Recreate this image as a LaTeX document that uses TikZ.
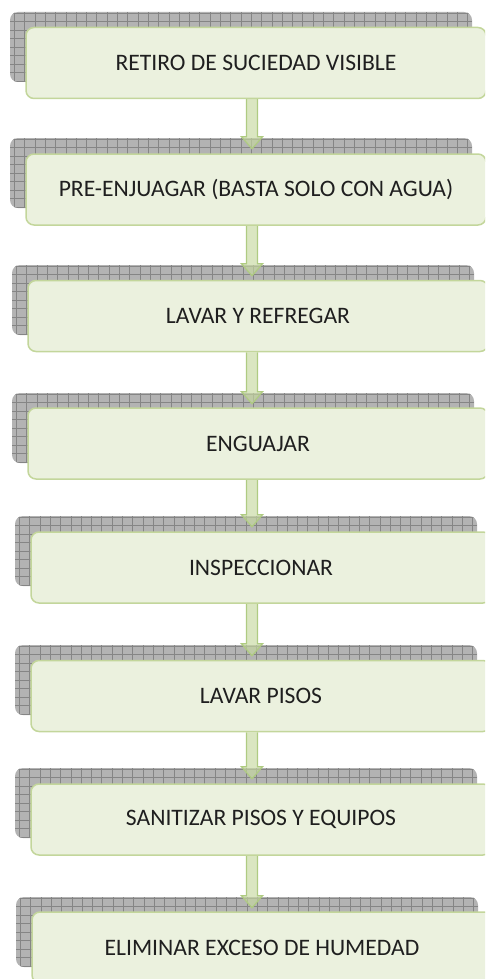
\documentclass[tikz,border=0pt]{standalone}
\usepackage{fontspec}
\setmainfont{Carlito}
\usetikzlibrary{calc}

\definecolor{boxfill}{HTML}{EBF1DE}
\definecolor{boxline}{HTML}{C3D69B}
\definecolor{arrfill}{HTML}{C6D9A0}
\definecolor{arrline}{HTML}{AFCB82}
\definecolor{shfill}{HTML}{B3B3B3}
\definecolor{shgrid}{HTML}{858585}
\definecolor{steptext}{HTML}{1F1F1F}

\pgfdeclarelayer{back}
\pgfdeclarelayer{mid}
\pgfsetlayers{back,mid,main}

% block arrow from a box to the shadow of the next one
\newcommand{\flowarrow}[2]{%
  \draw[flowarrow] let \p1=(252,0 |- #1.south), \p2=(252,0 |- #2.north) in
    (\x1-5.5pt,\y1) -- (\x1-5.5pt,\y2+1pt) -- (\x1-10.5pt,\y2+1pt)
    -- (\x1,\y2-11pt) -- (\x1+10.5pt,\y2+1pt) -- (\x1+5.5pt,\y2+1pt)
    -- (\x1+5.5pt,\y1);}

\begin{document}
\begin{tikzpicture}[
    x=1pt, y=-1pt,
    stepbox/.style={draw=boxline, line width=1.5pt, fill=boxfill, rounded corners=8pt,
      minimum width=460pt, minimum height=71pt, inner sep=0pt, text=steptext,
      font=\fontsize{23.6}{28}\selectfont},
    shadowbox/.style={fill=shfill, rounded corners=8pt, minimum width=462pt,
      minimum height=70pt, inner sep=0pt,
      path picture={\draw[shgrid, line width=0.8pt]
        (path picture bounding box.south west) grid[xstep=10.3pt, ystep=8.5pt]
        (path picture bounding box.north east);}},
    flowarrow/.style={draw=arrline, line width=1.2pt, fill=arrfill, fill opacity=0.65,
      line join=miter}
  ]
    \useasboundingbox (0,0) rectangle (485,979);
    \clip (0,0) rectangle (485,979);

    % steps
    \node[stepbox] (retiro)    at (256,63)    {RETIRO DE SUCIEDAD VISIBLE};
    \node[stepbox] (preenj)    at (256,189.5) {PRE-ENJUAGAR (BASTA SOLO CON AGUA)};
    \node[stepbox] (lavar)     at (258,316)   {LAVAR Y REFREGAR};
    \node[stepbox] (enguajar)  at (258,443.5) {ENGUAJAR};
    \node[stepbox] (inspec)    at (261,567.5) {INSPECCIONAR};
    \node[stepbox] (pisos)     at (261,696)   {LAVAR PISOS};
    \node[stepbox] (sanit)     at (261,819.5) {SANITIZAR PISOS Y EQUIPOS};
    \node[stepbox] (humedad)   at (262,947.5) {ELIMINAR EXCESO DE HUMEDAD};

    % shadows
    \begin{pgfonlayer}{back}
      \node[shadowbox] (sh-retiro)   at (241,47)   {};
      \node[shadowbox] (sh-preenj)   at (241,173)  {};
      \node[shadowbox] (sh-lavar)    at (243,300)  {};
      \node[shadowbox] (sh-enguajar) at (243,428)  {};
      \node[shadowbox] (sh-inspec)   at (246,551)  {};
      \node[shadowbox] (sh-pisos)    at (246,680)  {};
      \node[shadowbox] (sh-sanit)    at (246,803)  {};
      \node[shadowbox] (sh-humedad)  at (247,932)  {};
    \end{pgfonlayer}

    % arrows
    \begin{pgfonlayer}{mid}
      \flowarrow{retiro}{sh-preenj}
      \flowarrow{preenj}{sh-lavar}
      \flowarrow{lavar}{sh-enguajar}
      \flowarrow{enguajar}{sh-inspec}
      \flowarrow{inspec}{sh-pisos}
      \flowarrow{pisos}{sh-sanit}
      \flowarrow{sanit}{sh-humedad}
    \end{pgfonlayer}
\end{tikzpicture}
\end{document}
